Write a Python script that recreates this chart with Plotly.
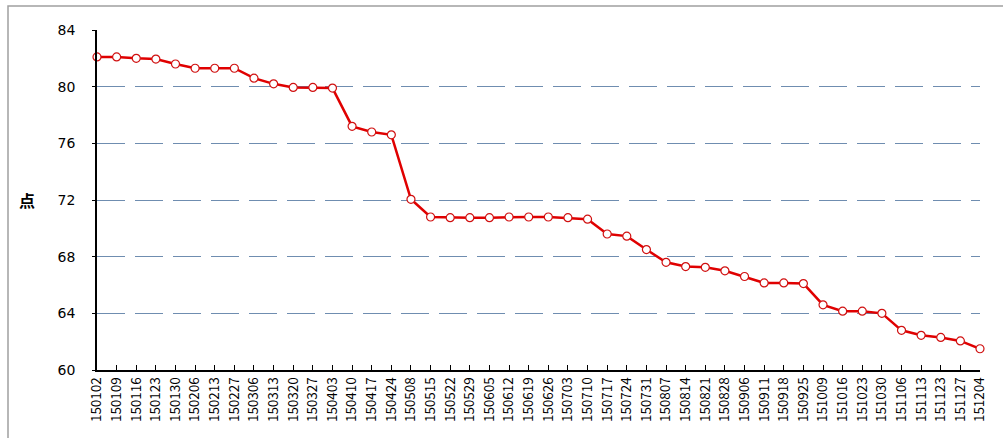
import plotly.graph_objects as go

dates = ["150102", "150109", "150116", "150123", "150130", "150206", "150213", "150227",
         "150306", "150313", "150320", "150327", "150403", "150410", "150417", "150424",
         "150508", "150515", "150522", "150529", "150605", "150612", "150619", "150626",
         "150703", "150710", "150717", "150724", "150731", "150807", "150814", "150821",
         "150828", "150906", "150911", "150918", "150925", "151009", "151016", "151023",
         "151030", "151106", "151113", "151123", "151127", "151204"]
values = [82.1, 82.1, 82.0, 81.95, 81.6, 81.3, 81.3, 81.3,
          80.6, 80.2, 79.95, 79.95, 79.9, 77.2, 76.8, 76.6,
          72.05, 70.8, 70.75, 70.75, 70.75, 70.8, 70.8, 70.8,
          70.75, 70.65, 69.6, 69.45, 68.5, 67.6, 67.3, 67.25,
          67.0, 66.6, 66.15, 66.15, 66.1, 64.6, 64.15, 64.15,
          64.0, 62.8, 62.45, 62.3, 62.05, 61.5]
y_ticks = [60, 64, 68, 72, 76, 80, 84]
y_title = "点"

W, H = 1003, 438
L, R, T, B = 97, 23, 30, 68
pw, ph = W - L - R, H - T - B

fig = go.Figure()
fig.add_trace(go.Scatter(
    x=dates, y=values, mode="lines+markers",
    line=dict(color="#e00000", width=2.5),
    marker=dict(symbol="circle", size=8, color="white",
                line=dict(color="#d01010", width=1.2)),
    cliponaxis=False, showlegend=False,
))

fig.update_layout(
    width=W, height=H,
    margin=dict(l=L, r=R, t=T, b=B, pad=0, autoexpand=False),
    paper_bgcolor="white", plot_bgcolor="white",
    font=dict(family="Noto Sans CJK SC", color="black"),
    xaxis=dict(
        type="category", categoryorder="array", categoryarray=dates,
        range=[0, len(dates) - 1], automargin=False,
        showline=True, linecolor="black", linewidth=1.5,
        ticks="inside", ticklen=5, tickcolor="black", tickwidth=1,
        tickangle=-90, tickfont=dict(size=13.5, family="Noto Sans CJK SC"),
        showgrid=False, zeroline=False,
    ),
    yaxis=dict(
        range=[60, 84], tickvals=y_ticks, automargin=False,
        showline=True, linecolor="black", linewidth=1.5,
        ticks="outside", ticklen=3, tickcolor="black", tickwidth=1,
        tickfont=dict(size=14, family="DejaVu Sans"),
        showgrid=True, gridcolor="#6f8db0", gridwidth=1.2, griddash="28px,10px",
        zeroline=False, ticklabelstandoff=14,
    ),
    annotations=[dict(
        text=y_title, xref="paper", yref="paper",
        x=(27 - L) / pw, y=(H - B - 200) / ph, showarrow=False, textangle=0,
        font=dict(size=16, family="Noto Sans CJK SC", color="black", weight="bold"),
        xanchor="center", yanchor="middle",
    )],
    shapes=[dict(
        type="rect", xref="paper", yref="paper",
        x0=(8 - L) / pw, x1=(1010 - L) / pw,
        y0=-(445 - (H - B)) / ph, y1=1 + (T - 6) / ph,
        line=dict(color="#a0a0a0", width=1.5), layer="below",
    )],
)

fig.write_html("out.html", config={"displayModeBar": False},
               post_script="document.body.style.margin='0';document.body.style.padding='0';")
